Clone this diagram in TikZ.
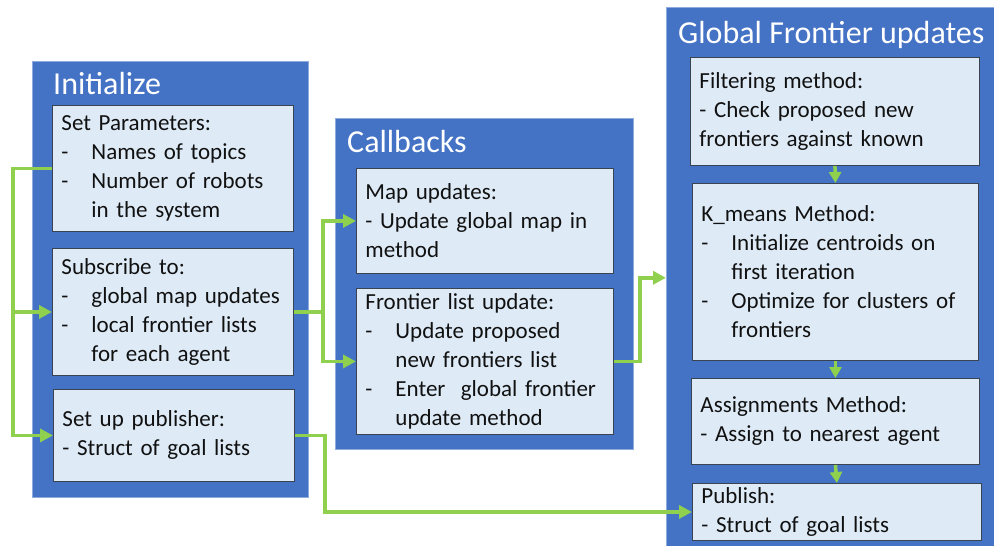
\documentclass[tikz,border=0pt]{standalone}
\usepackage{fontspec}
\setmainfont{Carlito}
\usetikzlibrary{arrows.meta,calc}

\definecolor{panelblue}{HTML}{4472C4}
\definecolor{paneledge}{HTML}{8FAADC}
\definecolor{cardfill}{HTML}{DEEBF7}
\definecolor{cardedge}{HTML}{3A4350}
\definecolor{flowgreen}{HTML}{8FD14F}
\definecolor{inktext}{HTML}{111111}

% dash item with hanging indent, and continuation line
\newcommand\dashitem[1]{\makebox[30pt][l]{-}#1}
\newcommand\contline[1]{\hspace*{30pt}#1}

\begin{document}
\begin{tikzpicture}[x=1pt,y=-1pt,
  panel/.style={draw=paneledge,line width=0.6pt,fill=panelblue,anchor=north west,inner sep=0pt},
  paneltitle/.style={anchor=base west,inner sep=0pt,text=white,font=\fontsize{32}{36}\selectfont},
  card/.style={draw=cardedge,line width=0.9pt,fill=cardfill,anchor=north west,
    inner xsep=9pt,inner ysep=0pt,align=left,text=inktext,
    font=\fontsize{23}{29}\selectfont},
  gline/.style={draw=flowgreen,line width=3.5pt,line join=miter},
  garrow/.style={gline,-{Triangle[length=13pt,width=13pt]}},
  gdown/.style={draw=flowgreen,line width=3.5pt,-{Triangle[length=11pt,width=12pt]}}
]
\useasboundingbox (0,0) rectangle (994,546);

% ---------- panels ----------
\node[panel,minimum width=276pt,minimum height=436pt] (init) at (32,61) {};
\node[paneltitle] (initT) at (53,94) {Initialize};

\node[panel,minimum width=298pt,minimum height=331pt] (cb) at (335,118) {};
\node[paneltitle] (cbT) at (347,152) {Callbacks};

\node[panel,minimum width=330pt,minimum height=541pt] (glob) at (666,7) {};
\node[paneltitle] (globT) at (678,43) {Global Frontier updates};

% ---------- Initialize cards ----------
\node[card,text width=223pt,minimum height=126pt] (sp) at (52,105)
  {Set Parameters:\\\dashitem{Names of topics}\\\dashitem{Number of robots}\\\contline{in the system}};
\node[card,text width=223pt,minimum height=127pt] (sub) at (52,248)
  {Subscribe to:\\\dashitem{global map updates}\\\dashitem{local frontier lists}\\\contline{for each agent}};
\node[card,text width=223pt,minimum height=92pt] (pub) at (53,389)
  {Set up publisher:\\- Struct of goal lists};

% ---------- Callbacks cards ----------
\node[card,text width=239pt,minimum height=105pt] (map) at (356,168)
  {Map updates:\\- Update global map in\\method};
\node[card,text width=239pt,minimum height=146pt] (fl) at (356,288)
  {Frontier list update:\\\dashitem{Update proposed}\\\contline{new frontiers list}\\\dashitem{Enter\ \ global frontier}\\\contline{update method}};

% ---------- Global Frontier cards ----------
\node[card,text width=271pt,minimum height=108pt] (filt) at (690,57)
  {Filtering method:\\- Check proposed new\\frontiers against known};
\node[card,text width=268pt,minimum height=177pt] (km) at (692,183)
  {K\_means Method:\\\dashitem{Initialize centroids on}\\\contline{first iteration}\\\dashitem{Optimize for clusters of}\\\contline{frontiers}};
\node[card,text width=270pt,minimum height=86pt] (asg) at (691,378)
  {Assignments Method:\\- Assign to nearest agent};
\node[card,text width=271pt,minimum height=57pt] (pubg) at (692,483)
  {Publish:\\- Struct of goal lists};

% ---------- bus lines ----------
\coordinate (lbus) at (13,0);
\coordinate (mbus) at (323,0);
\coordinate (rbus) at (640,0);
\coordinate (pbus) at (325,0);

% Initialize: parameters feed the subscriber and publisher set-up
\draw[garrow] (sp.west) -- (sp.west -| lbus) |- (pub.west);
\draw[garrow] (sub.west -| lbus) -- (sub.west);

% subscriptions feed both callbacks
\draw[garrow] (sub.east) -- (sub.east -| mbus) |- (map.west);
\draw[garrow] (sub.east -| mbus) |- (fl.west);

% frontier list update enters the global update
\draw[garrow] (fl.east) -- (fl.east -| rbus) |- (glob.west);

% publisher set-up to publish step
\draw[garrow] (pub.east) -- (pub.east -| pbus) |- (pubg.west);

% global pipeline
\draw[gdown] (filt.south) -- (km.north);
\draw[gdown] (km.south) -- (asg.north);
\draw[gdown] (asg.south) -- (pubg.north);
\end{tikzpicture}
\end{document}
